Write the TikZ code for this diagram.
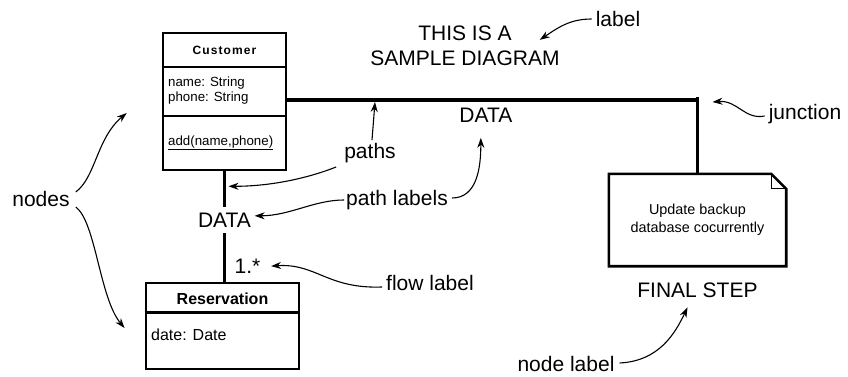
\documentclass[tikz,border=0pt]{standalone}
\usepackage{fontspec}
\setmainfont{Liberation Sans}
\usetikzlibrary{positioning,calc,arrows.meta}

\newcommand{\bigtxt}{\fontsize{21}{25}\selectfont}

\begin{document}
\begin{tikzpicture}[
    x=1pt, y=-1pt,
    classbox/.style={
        rectangle,
        draw,
        line width=2.6pt,
        inner sep=0pt
    },
    divider/.style={line width=2.3pt},
    flow/.style={line width=3.4pt},
    tag/.style={
        font=\bigtxt,
        inner sep=0pt
    },
    member/.style={
        font=\fontsize{13.3}{14.5}\selectfont,
        align=left,
        inner sep=0pt,
        anchor=west
    },
    callout/.style={-{Stealth[length=10pt,width=7pt]}, line width=1.1pt}
]

\useasboundingbox (0,0) rectangle (848,377);

% ------------------------------------------------------------
% Classes
% ------------------------------------------------------------

\node[classbox, minimum width=123pt, minimum height=137pt] (customer)
    at (224.5,101.5) {};
\draw[divider] ($(customer.north west)+(0,35)$) -- ($(customer.north east)+(0,35)$);
\draw[divider] ($(customer.north west)+(0,84)$) -- ($(customer.north east)+(0,84)$);

\node[font=\fontsize{12}{14}\selectfont\bfseries\addfontfeatures{LetterSpace=9}]
    (custname) at (224.5,50.5) {Customer};
\node[member, anchor=north west] (custattr) at (168,77)
    {name: String\\phone: String};
\node[member] (custop) at (168,143) {\underline{add(name,phone)}};

\node[classbox, line width=2.9pt, minimum width=153pt, minimum height=86pt]
    (reservation) at (222.5,326) {};
\draw[divider] ($(reservation.north west)+(0,31)$) -- ($(reservation.north east)+(0,31)$);

\node[font=\fontsize{16}{18}\selectfont\bfseries] (resname) at (222.5,299)
    {Reservation};
\node[member, font=\fontsize{16}{18}\selectfont] (resattr) at (151,335)
    {date: Date};

% ------------------------------------------------------------
% Note
% ------------------------------------------------------------

\node[minimum width=177pt, minimum height=92pt, align=center,
      font=\fontsize{14.4}{18}\selectfont] (note) at (697.5,220)
    {Update backup\\database cocurrently};
\draw[line width=2.6pt, line join=miter]
    (note.north west) -- ($(note.north east)+(-15,0)$)
    -- ($(note.north east)+(0,15)$) -- (note.south east)
    -- (note.south west) -- cycle;
\draw[line width=1pt] ($(note.north east)+(-15,0)$) |- ($(note.north east)+(0,15)$);

\node[tag, below=16pt of note] (final) {FINAL STEP};

% ------------------------------------------------------------
% Paths
% ------------------------------------------------------------

\coordinate (junction) at (697.5,100);

\draw[flow]
    (customer.east |- junction) --
    node[tag, below=6pt, pos=0.484] (hdata) {DATA}
    (junction);

\draw[flow] ($(junction)+(0,-3)$) -- (note.north);

\draw[flow]
    (customer.south) --
    node[tag, fill=white, inner xsep=2pt, inner ysep=6pt, pos=0.44] (vdata) {DATA}
    node[tag, right=8.5pt, pos=0.86] (mult) {1.*}
    (customer.south |- reservation.north);

% ------------------------------------------------------------
% Labels
% ------------------------------------------------------------

\node[tag, align=center] (title) at (465,46) {THIS IS A\\SAMPLE DIAGRAM};

\node[tag] (lbl)        at (618,19)  {label};
\node[tag] (junclabel)  at (805,114) {junction};
\node[tag] (pathslabel) at (370,153) {paths};
\node[tag] (plabels)    at (397,200) {path labels};
\node[tag] (flowlabel)  at (430,283) {flow label};
\node[tag] (nodeslabel) at (41,199)  {nodes};
\node[tag] (nodelabel)  at (566,364) {node label};

% ------------------------------------------------------------
% Callouts
% ------------------------------------------------------------

\draw[callout]
    ($(lbl.west)+(-4,0)$)
    .. controls +(-22,0) and +(18,-12) ..
    ($(title.north east)+(-20,14)$);

\draw[callout]
    ($(junclabel.west)+(-4,2)$)
    .. controls +(-20,4) and +(25,-2) ..
    ($(junction)+(15,2)$);

\draw[callout]
    ($(pathslabel.north)+(2,-3)$) -- ($(pathslabel.north |- junction)+(5,2)$);

\draw[callout]
    ($(pathslabel.south west)+(-8,4)$)
    .. controls +(-25,10) and +(45,0) ..
    ($(customer.south)+(4,15)$);

\draw[callout]
    ($(plabels.west)+(-2,0)$)
    .. controls +(-30,0) and +(35,0) ..
    ($(vdata.east)+(0,-4)$);

\draw[callout]
    ($(plabels.east)+(4,-2)$)
    .. controls +(25,0) and +(0,30) ..
    ($(hdata.south)+(-5,14)$);

\draw[callout]
    ($(flowlabel.west)+(-4,4)$)
    .. controls +(-55,2) and +(45,-3) ..
    ($(mult.east)+(9,0)$);

\draw[callout]
    ($(nodeslabel.east)+(6,-7)$)
    .. controls +(20,-15) and +(-30,25) ..
    ($(customer.west)+(-35,11.5)$);

\draw[callout]
    ($(nodeslabel.east)+(6,8)$)
    .. controls +(20,15) and +(-25,-30) ..
    ($(reservation.west)+(-20,2)$);

\draw[callout]
    ($(nodelabel.east)+(5,-1)$)
    .. controls +(40,-2) and +(-12,25) ..
    ($(final.south)+(-10,10)$);

\end{tikzpicture}
\end{document}
